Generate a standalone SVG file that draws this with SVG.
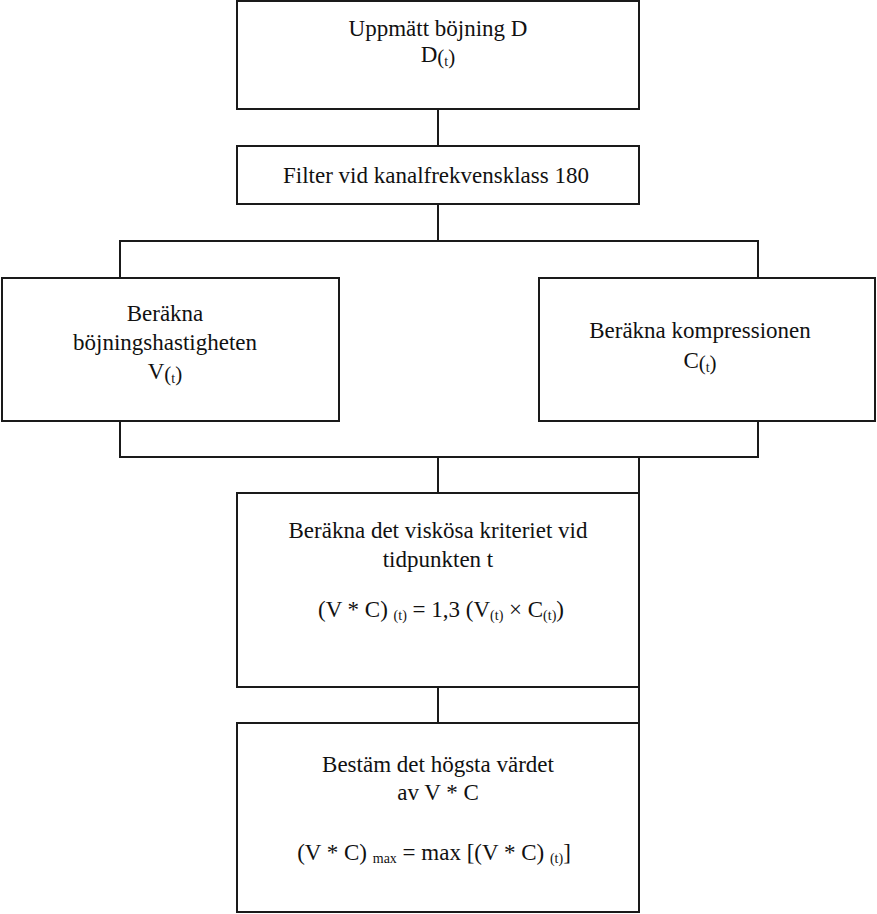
<svg xmlns="http://www.w3.org/2000/svg" width="877" height="914" viewBox="0 0 877 914">
<style>
.box{fill:#fff;stroke:#1a1a1a;stroke-width:2}
.ln{fill:none;stroke:#1a1a1a;stroke-width:2}
text{font-family:"Liberation Serif","Times New Roman",serif;font-size:23px;fill:#111;text-anchor:middle}
.s{font-size:14px}
.p{font-size:21px}
</style>
<rect width="877" height="914" fill="#fff"/>
<g id="connectors">
<path class="ln" d="M438 109V146"/>
<path class="ln" d="M438 204V241"/>
<path class="ln" d="M120 278V241H758V278"/>
<path class="ln" d="M120 421V457H758V421"/>
<path class="ln" d="M438 457V493"/>
<path class="ln" d="M639 457V723"/>
<path class="ln" d="M438 687V723"/>
</g>
<g id="n1">
<rect class="box" x="237" y="1" width="402" height="108"/>
<text x="438" y="36">Uppmätt böjning D</text>
<text x="438" y="62">D<tspan class="p" dy="2">(</tspan><tspan class="s" dy="2">t</tspan><tspan class="p" dy="-2">)</tspan></text>
</g>
<g id="n2">
<rect class="box" x="237" y="146" width="402" height="58"/>
<text x="436" y="183">Filter vid kanalfrekvensklass 180</text>
</g>
<g id="n3">
<rect class="box" x="2" y="278" width="337" height="143"/>
<text x="165" y="321">Beräkna</text>
<text x="165" y="350">böjningshastigheten</text>
<text x="165" y="379">V<tspan class="p" dy="2">(</tspan><tspan class="s" dy="2">t</tspan><tspan class="p" dy="-2">)</tspan></text>
</g>
<g id="n4">
<rect class="box" x="539" y="278" width="336" height="143"/>
<text x="700" y="338">Beräkna kompressionen</text>
<text x="700" y="368">C<tspan class="p" dy="2">(</tspan><tspan class="s" dy="2">t</tspan><tspan class="p" dy="-2">)</tspan></text>
</g>
<g id="n5">
<rect class="box" x="237" y="493" width="402" height="194"/>
<text x="438" y="538">Beräkna det viskösa kriteriet vid</text>
<text x="438" y="567">tidpunkten t</text>
<text x="441" y="617">(V * C) <tspan class="s" dy="3">(t)</tspan><tspan dy="-3"> = 1,3 (V</tspan><tspan class="s" dy="3">(t)</tspan><tspan dy="-3"> × C</tspan><tspan class="s" dy="3">(t)</tspan><tspan dy="-3">)</tspan></text>
</g>
<g id="n6">
<rect class="box" x="237" y="723" width="402" height="189"/>
<text x="438" y="772">Bestäm det högsta värdet</text>
<text x="438" y="800">av V * C</text>
<text x="434" y="860">(V * C) <tspan class="s" dy="3">max</tspan><tspan dy="-3"> = max [(V * C) </tspan><tspan class="s" dy="3">(t)</tspan><tspan dy="-3">]</tspan></text>
</g>
</svg>
